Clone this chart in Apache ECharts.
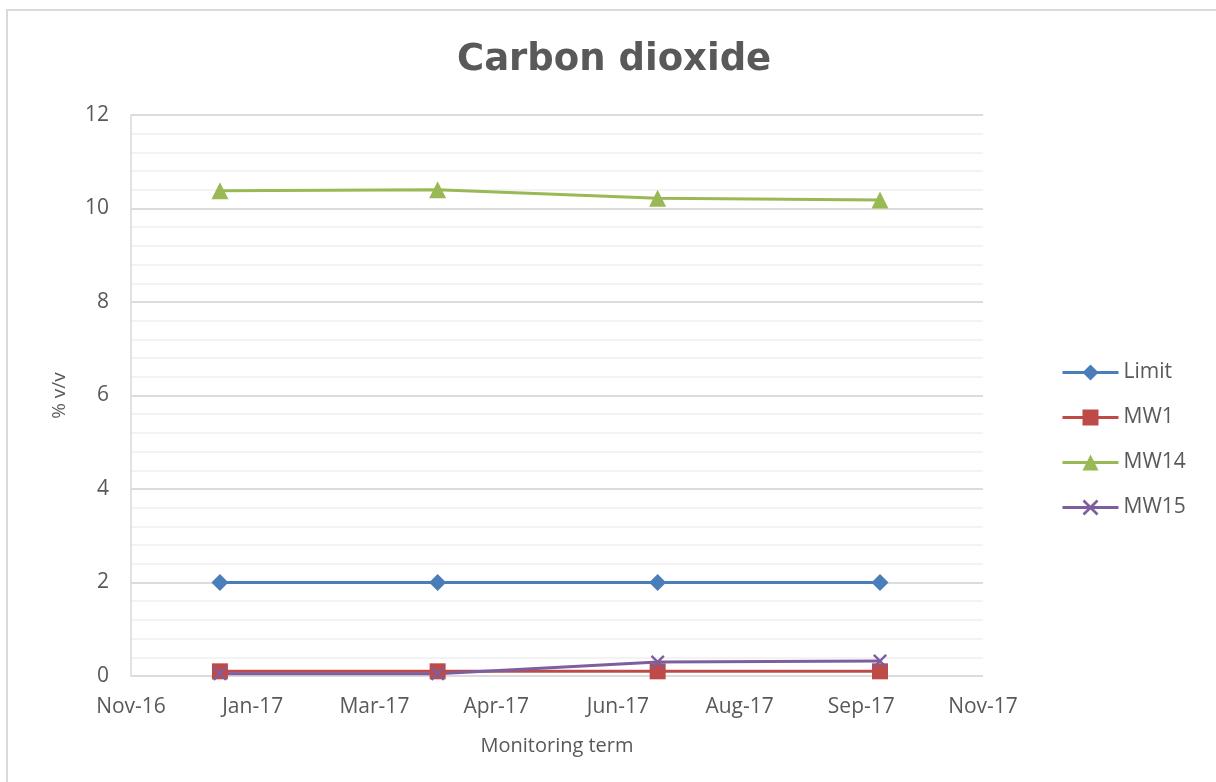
<!DOCTYPE html>
<html>
<head>
<meta charset="utf-8">
<script src="https://cdn.jsdelivr.net/npm/echarts@6/dist/echarts.min.js"></script>
<style>
html,body{margin:0;padding:0;background:#fff;}
#main{width:1216px;height:782px;}
</style>
</head>
<body>
<div id="main"></div>
<script type="text/javascript">
// 监测日期
var dates = ['2016-12-28', '2017-03-31', '2017-07-03', '2017-10-06'];
var limitVals = [2, 2, 2, 2];
var mw1Vals = [0.1, 0.1, 0.1, 0.1];
var mw14Vals = [10.38, 10.4, 10.22, 10.18];
var mw15Vals = [0.05, 0.05, 0.3, 0.32];
var yTicks = [0, 2, 4, 6, 8, 10, 12];

var origin = Date.UTC(2016, 10, 20);
var DAY = 86400000;
var months = ['Jan','Feb','Mar','Apr','May','Jun','Jul','Aug','Sep','Oct','Nov','Dec'];

function toDay(s){
	var p = s.split('-');
	return (Date.UTC(+p[0], +p[1] - 1, +p[2]) - origin) / DAY;
}
function fmt(v){
	var d = new Date(origin + v * DAY);
	return months[d.getUTCMonth()] + '-' + String(d.getUTCFullYear()).slice(2);
}
function pts(vals){
	var arr = [];
	for(var i=0; i<dates.length; i++){
		arr.push([toDay(dates[i]), vals[i]]);
	}
	return arr;
}

var xPath = 'path://M0,1.2 L1.2,0 L5,3.8 L8.8,0 L10,1.2 L6.2,5 L10,8.8 L8.8,10 L5,6.2 L1.2,10 L0,8.8 L3.8,5 Z';

function mkSeries(name, vals, color, symbol, size){
	return {
		name: name,
		type: 'line',
		data: pts(vals),
		symbol: symbol,
		symbolSize: size,
		lineStyle: {color: color, width: 3},
		itemStyle: {color: color},
		emphasis: {disabled: true}
	};
}

var myChart = echarts.init(document.getElementById('main'));
var option = {
	animation: false,
	backgroundColor: '#fff',
	textStyle: {fontFamily: 'Open Sans'},
	graphic: [{
		type: 'rect',
		shape: {x: 7, y: 10, width: 1300, height: 900},
		style: {fill: 'none', stroke: '#d9d9d9', lineWidth: 2},
		silent: true
	}],
	title: {
		text: 'Carbon dioxide',
		left: 457,
		top: 42,
		padding: 0,
		textStyle: {color: '#595959', fontSize: 37, fontWeight: 'bold', fontFamily: 'DejaVu Sans'}
	},
	legend: {
		orient: 'vertical',
		left: 1056,
		top: 357,
		itemWidth: 56,
		itemHeight: 20,
		itemGap: 24,
		lineStyle: {width: 3},
		textStyle: {color: '#595959', fontSize: 21},
		data: ['Limit', 'MW1', 'MW14', 'MW15']
	},
	grid: {left: 131, right: 233, top: 115, bottom: 106},
	xAxis: {
		type: 'value',
		min: 0,
		max: 364,
		interval: 52,
		name: 'Monitoring term',
		nameLocation: 'middle',
		nameGap: 60,
		nameTextStyle: {color: '#595959', fontSize: 20},
		axisLine: {show: false},
		axisTick: {show: false},
		splitLine: {show: false},
		axisLabel: {color: '#595959', fontSize: 21, margin: 21, formatter: fmt}
	},
	yAxis: {
		type: 'value',
		min: yTicks[0],
		max: yTicks[yTicks.length - 1],
		interval: 2,
		name: '% v/v',
		nameLocation: 'middle',
		nameGap: 62,
		nameTextStyle: {color: '#595959', fontSize: 19},
		axisLine: {show: true, lineStyle: {color: '#d9d9d9', width: 1.5}},
		axisTick: {show: false},
		axisLabel: {color: '#595959', fontSize: 21, margin: 22},
		splitLine: {lineStyle: {color: '#d0d0d0', width: 1.5}},
		minorTick: {show: false, splitNumber: 5},
		minorSplitLine: {show: true, lineStyle: {color: '#f0f0f0', width: 1.5}}
	},
	series: [
		mkSeries('Limit', limitVals, '#4a7ebb', 'diamond', 17),
		mkSeries('MW1', mw1Vals, '#be4b48', 'rect', 16),
		mkSeries('MW14', mw14Vals, '#98b954', 'triangle', 17),
		mkSeries('MW15', mw15Vals, '#7d5fa0', xPath, 14)
	]
};
myChart.setOption(option);
</script>
</body>
</html>
